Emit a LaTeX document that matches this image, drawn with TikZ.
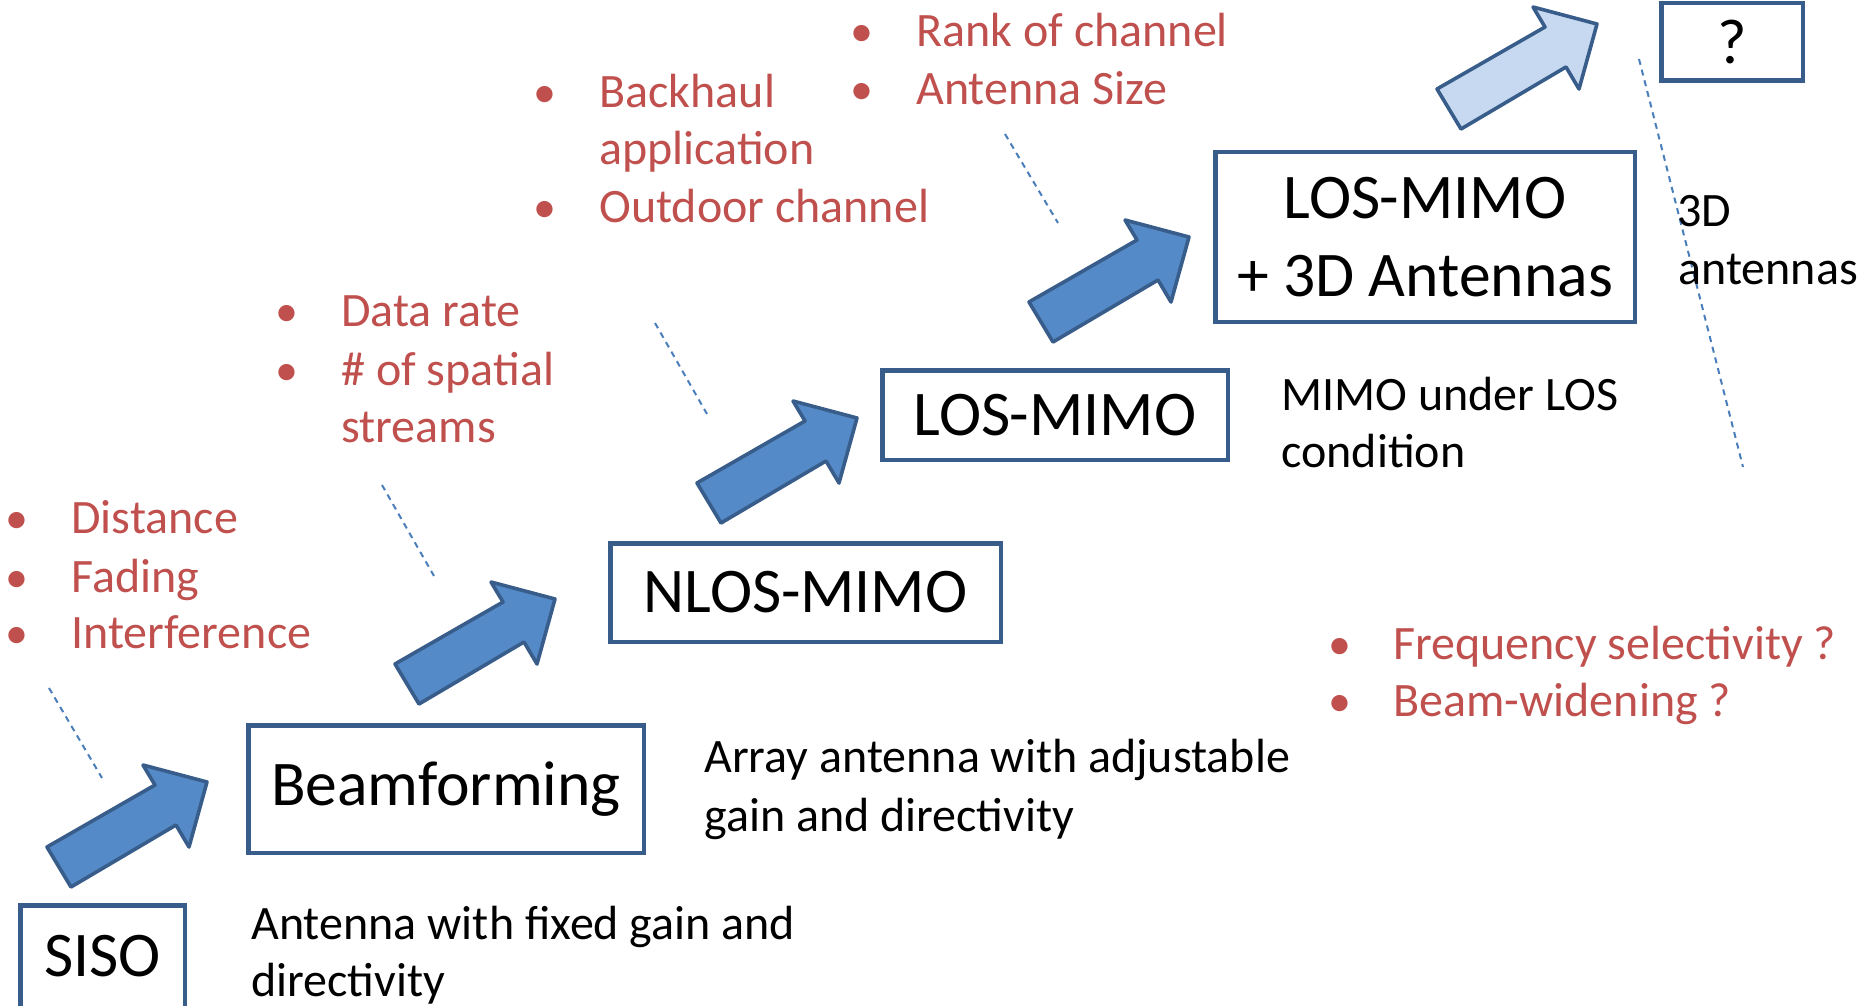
\documentclass[tikz,border=0pt]{standalone}
\usepackage{fontspec}
\setmainfont{Carlito}
\definecolor{boxline}{HTML}{385D8A}
\definecolor{arrowfill}{HTML}{558AC8}
\definecolor{arrowlight}{HTML}{C6D9F1}
\definecolor{accentred}{HTML}{C0504D}
\definecolor{dashblue}{HTML}{4A7EBB}
\tikzset{
  stage/.style={draw=boxline, line width=2.25pt, fill=white, inner sep=0pt,
    font=\fontsize{31.8}{38.75}\selectfont, align=center},
  redtxt/.style={text=accentred, font=\fontsize{24}{28}\selectfont, anchor=base west, inner sep=0pt},
  redbul/.style={text=accentred, font=\fontsize{23}{28}\selectfont, anchor=base, inner sep=0pt},
  blktxt/.style={text=black, font=\fontsize{24}{28}\selectfont, anchor=base west, inner sep=0pt},
  dashline/.style={draw=dashblue, line width=1pt, dash pattern=on 3pt off 2.5pt},
  pics/stepArrow/.style={code={
    \draw[line width=1.8pt, draw=boxline, line join=round, fill=#1]
      (0,0) -- (108,-62) -- (96,-82) -- (160,-65) -- (142,0) -- (129,-22) -- (24,40) -- cycle;}},
  pics/stepArrow/.default=arrowfill
}
\begin{document}
\begin{tikzpicture}[x=0.5pt,y=-0.5pt]
\useasboundingbox (0,0) rectangle (1870,1006);

% stage boxes
\node[stage, minimum width=82.25pt, minimum height=51.25pt] (siso) at (102.5,956.5) {SISO};
\node[stage, minimum width=197.75pt, minimum height=63.75pt] (beam) at (446,789) {Beamforming};
\node[stage, minimum width=195.25pt, minimum height=49.25pt] (nlos) at (805.5,592.5) {NLOS-MIMO};
\node[stage, minimum width=172.75pt, minimum height=44.75pt] (los) at (1055,415) {LOS-MIMO};
\node[stage, minimum width=209.75pt, minimum height=84.75pt] (los3d) at (1425,237) {LOS-MIMO\\+ 3D Antennas};
\node[stage, minimum width=70.75pt, minimum height=38.75pt] (next) at (1732,42) {?};

% block arrows between stages
\pic at (47,847) {stepArrow};
\pic at (395,664) {stepArrow};
\pic at (697,483) {stepArrow};
\pic at (1029,302) {stepArrow};
\pic at (1437,89) {stepArrow=arrowlight};

% dashed pointers
\coordinate (d1a) at (49,688);   \coordinate (d1b) at (102,778);
\coordinate (d2a) at (382,485);  \coordinate (d2b) at (434,576);
\coordinate (d3a) at (655,323);  \coordinate (d3b) at (707,414);
\coordinate (d4a) at (1005,134); \coordinate (d4b) at (1058,223);
\coordinate (d5a) at (1639,59);  \coordinate (d5b) at (1743,467);
\draw[dashline] (d1a) -- (d1b);
\draw[dashline] (d2a) -- (d2b);
\draw[dashline] (d3a) -- (d3b);
\draw[dashline] (d4a) -- (d4b);
\draw[dashline] (d5a) -- (d5b);

% issues for SISO
\node[redbul] (ab1) at (17,533) {•};
\node[redtxt] (at1) at (71,533) {Distance};
\node[redbul] (ab2) at (17,592) {•};
\node[redtxt] (at2) at (71,592) {Fading};
\node[redbul] (ab3) at (17,648) {•};
\node[redtxt] (at3) at (71,648) {Interference};

% issues for beamforming
\node[redbul] (bb1) at (287,326) {•};
\node[redtxt] (bt1) at (341,326) {Data rate};
\node[redbul] (bb2) at (287,385) {•};
\node[redtxt] (bt2) at (341,385) {\# of spatial};
\node[redtxt] (bt3) at (341,442) {streams};

% issues for NLOS-MIMO
\node[redbul] (cb1) at (545,108) {•};
\node[redtxt] (ct1) at (599,108) {Backhaul};
\node[redtxt] (ct2) at (599,165) {application};
\node[redbul] (cb2) at (545,222) {•};
\node[redtxt] (ct3) at (599,222) {Outdoor channel};

% issues for LOS-MIMO
\node[redbul] (eb1) at (862,47) {•};
\node[redtxt] (et1) at (916,47) {Rank of channel};
\node[redbul] (eb2) at (862,105) {•};
\node[redtxt] (et2) at (916,105) {Antenna Size};

% open questions
\node[redbul] (fb1) at (1340,659) {•};
\node[redtxt] (ft1) at (1393,659) {Frequency selectivity ?};
\node[redbul] (fb2) at (1340,716) {•};
\node[redtxt] (ft2) at (1393,716) {Beam-widening ?};

% descriptions
\node[blktxt] (s1) at (251,939) {Antenna with fixed gain and};
\node[blktxt] (s2) at (251,996) {directivity};
\node[blktxt] (m1) at (704,772) {Array antenna with adjustable};
\node[blktxt] (m2) at (704,831) {gain and directivity};
\node[blktxt] (l1) at (1281,410) {MIMO under LOS};
\node[blktxt] (l2) at (1281,467) {condition};
\node[blktxt] (k1) at (1677,227) {3D};
\node[blktxt] (k2) at (1678,285) {antennas};
\end{tikzpicture}
\end{document}
